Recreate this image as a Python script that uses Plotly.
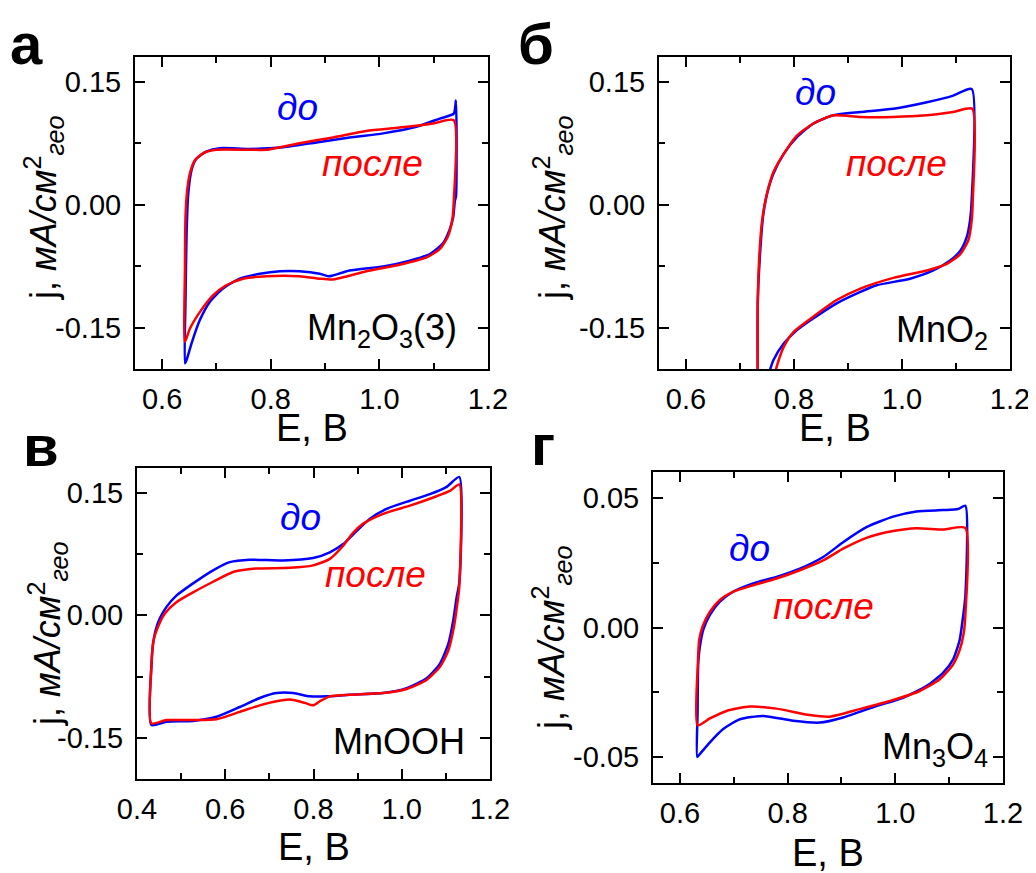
import plotly.graph_objects as go

# ---------------- data (E in V, j in mA/cm^2) ----------------
# Panel а: Mn2O3(3)
a_do_E = [0.642, 0.643, 0.645, 0.648, 0.654, 0.663, 0.682, 0.706, 0.761, 0.823, 0.884, 0.945, 1.007, 1.068,
          1.111, 1.137, 1.141, 1.141, 1.139, 1.136, 1.129, 1.117, 1.093, 1.056, 1.007, 0.945, 0.915, 0.906,
          0.890, 0.853, 0.817, 0.780, 0.743, 0.712, 0.688, 0.669, 0.654, 0.645, 0.642]
a_do_j = [-0.193, -0.116, -0.035, 0.013, 0.042, 0.056, 0.065, 0.069, 0.068, 0.070, 0.076, 0.082, 0.087, 0.095,
          0.105, 0.111, 0.127, 0.010, 0.005, -0.015, -0.031, -0.047, -0.060, -0.068, -0.075, -0.080, -0.086, -0.087,
          -0.084, -0.081, -0.081, -0.084, -0.090, -0.102, -0.118, -0.141, -0.169, -0.189, -0.193]
a_po_E = [0.642, 0.642, 0.643, 0.646, 0.651, 0.660, 0.676, 0.700, 0.761, 0.792, 0.853, 0.915, 0.976, 1.037,
          1.099, 1.137, 1.137, 1.134, 1.126, 1.111, 1.087, 1.037, 0.976, 0.915, 0.890, 0.853, 0.792, 0.749,
          0.718, 0.694, 0.669, 0.651, 0.642]
a_po_j = [-0.167, -0.076, -0.015, 0.017, 0.038, 0.054, 0.063, 0.067, 0.067, 0.067, 0.075, 0.082, 0.090, 0.094,
          0.099, 0.103, 0.005, -0.019, -0.039, -0.054, -0.064, -0.073, -0.081, -0.091, -0.090, -0.087, -0.087, -0.090,
          -0.098, -0.110, -0.131, -0.151, -0.167]

# Panel б: MnO2
b_do_E = [0.733, 0.733, 0.7375, 0.7425, 0.750, 0.762, 0.781, 0.805, 0.836, 0.873, 0.923, 0.984, 1.046, 1.095,
          1.129, 1.129, 1.126, 1.120, 1.108, 1.089, 1.058, 1.015, 0.953, 0.923, 0.879, 0.830, 0.805, 0.781,
          0.762, 0.753, 0.747]
b_do_j = [-0.238, -0.116, -0.056, -0.015, 0.013, 0.038, 0.062, 0.082, 0.099, 0.109, 0.113, 0.117, 0.125, 0.133,
          0.141, 0.005, -0.019, -0.039, -0.056, -0.068, -0.080, -0.090, -0.098, -0.106, -0.120, -0.141, -0.153, -0.169,
          -0.189, -0.206, -0.218]
b_po_E = [0.733, 0.733, 0.736, 0.741, 0.749, 0.762, 0.781, 0.805, 0.836, 0.873, 0.923, 0.984, 1.046, 1.095,
          1.130, 1.131, 1.129, 1.123, 1.108, 1.083, 1.046, 0.984, 0.923, 0.879, 0.830, 0.799, 0.781, 0.768, 0.762]
b_po_j = [-0.238, -0.116, -0.060, -0.019, 0.011, 0.040, 0.062, 0.084, 0.099, 0.109, 0.107, 0.107, 0.109, 0.113,
          0.117, 0.005, -0.019, -0.043, -0.060, -0.072, -0.080, -0.089, -0.102, -0.116, -0.139, -0.155, -0.173, -0.197,
          -0.214]

# Panel в: MnOOH
c_do_E = [0.4325, 0.433, 0.4363, 0.4423, 0.4514, 0.4665, 0.4892, 0.527, 0.5724, 0.6102, 0.6556, 0.7312, 0.7992,
          0.837, 0.8673, 0.8975, 0.9278, 0.9656, 1.0185, 1.0639, 1.1017, 1.1304, 1.1304, 1.1244, 1.1168, 1.1055,
          1.0866, 1.0563, 1.011, 0.958, 0.8824, 0.8295, 0.7917, 0.7539, 0.7161, 0.6783, 0.6329, 0.580, 0.527,
          0.4665, 0.4325]
c_do_j = [-0.134, -0.059, -0.035, -0.018, -0.004, 0.010, 0.024, 0.039, 0.055, 0.065, 0.068, 0.067, 0.070,
          0.077, 0.087, 0.103, 0.118, 0.130, 0.140, 0.148, 0.157, 0.169, 0.040, 0.022, -0.006, -0.035,
          -0.059, -0.077, -0.089, -0.095, -0.097, -0.099, -0.099, -0.095, -0.095, -0.101, -0.112, -0.124, -0.129,
          -0.130, -0.134]
c_po_E = [0.4325, 0.433, 0.4378, 0.4476, 0.4628, 0.4892, 0.527, 0.5724, 0.6178, 0.6631, 0.7463, 0.7992, 0.837,
          0.8673, 0.890, 0.9127, 0.958, 1.0185, 1.0714, 1.1092, 1.1304, 1.1304, 1.1259, 1.1183, 1.1055, 1.0866,
          1.0563, 1.011, 0.958, 0.8824, 0.837, 0.8144, 0.7992, 0.7803, 0.7463, 0.7161, 0.6783, 0.6329, 0.580,
          0.527, 0.4665, 0.4325]
c_po_j = [-0.132, -0.059, -0.030, -0.014, 0.002, 0.016, 0.028, 0.041, 0.053, 0.057, 0.058, 0.061, 0.069,
          0.085, 0.101, 0.112, 0.124, 0.134, 0.144, 0.152, 0.160, 0.035, 0.014, -0.014, -0.043, -0.063,
          -0.079, -0.090, -0.095, -0.097, -0.099, -0.105, -0.110, -0.107, -0.103, -0.105, -0.110, -0.118, -0.127,
          -0.128, -0.128, -0.132]

# Panel г: Mn3O4
d_do_E = [0.6322, 0.6328, 0.634, 0.6371, 0.6433, 0.6557, 0.6742, 0.699, 0.7361, 0.7794, 0.8227, 0.866, 0.9031,
          0.9464, 0.9959, 1.0392, 1.0887, 1.1165, 1.1301, 1.1301, 1.1258, 1.1196, 1.1072, 1.0886, 1.0577, 1.0144,
          0.9649, 0.9031, 0.8598, 0.8103, 0.7546, 0.7113, 0.6804, 0.6557, 0.6371, 0.6322]
d_do_j = [-0.050, -0.033, -0.0137, -0.0073, -0.0009, 0.0049, 0.010, 0.0138, 0.017, 0.0195, 0.0227, 0.0272, 0.0329,
          0.0387, 0.0428, 0.0448, 0.0453, 0.0457, 0.047, 0.012, 0.0042, -0.0047, -0.0124, -0.0175, -0.0226, -0.0271,
          -0.0303, -0.0347, -0.0367, -0.036, -0.0341, -0.0354, -0.0392, -0.0443, -0.0488, -0.050]
d_po_E = [0.6328, 0.6334, 0.6359, 0.6421, 0.6557, 0.6742, 0.699, 0.7361, 0.7794, 0.8227, 0.866, 0.9031, 0.9464,
          0.9959, 1.0392, 1.0887, 1.1301, 1.1301, 1.127, 1.1196, 1.1072, 1.0825, 1.0454, 0.9959, 0.934, 0.8783,
          0.8412, 0.7794, 0.7299, 0.6866, 0.6557, 0.6328]
d_po_j = [-0.0377, -0.0137, -0.0047, 0.0004, 0.0061, 0.0106, 0.0138, 0.0163, 0.0189, 0.0221, 0.0259, 0.0304, 0.0346,
          0.0372, 0.0383, 0.0378, 0.0384, 0.005, -0.0022, -0.0086, -0.0143, -0.020, -0.0245, -0.028, -0.0315, -0.0344,
          -0.0338, -0.0313, -0.0305, -0.0322, -0.0351, -0.0377]

# Tick labels
x_ticks_std = [0.6, 0.8, 1.0, 1.2]
x_ticktext_std = ["0.6", "0.8", "1.0", "1.2"]
x_ticks_c = [0.4, 0.6, 0.8, 1.0, 1.2]
x_ticktext_c = ["0.4", "0.6", "0.8", "1.0", "1.2"]
y_ticks_big = [-0.15, 0.0, 0.15]
y_ticktext_big = ["-0.15", "0.00", "0.15"]
y_ticks_small = [-0.05, 0.0, 0.05]
y_ticktext_small = ["-0.05", "0.00", "0.05"]

panel_letters = ["а", "б", "в", "г"]
compounds = ["Mn<sub>2</sub>O<sub>3</sub>(3)", "MnO<sub>2</sub>", "MnOOH", "Mn<sub>3</sub>O<sub>4</sub>"]
label_do = "до"
label_po = "после"

# ---------------- layout ----------------
# The page body adds an 8px margin around the figure, so figure pixels are offset.
OFF = 8
W, H = 1036 - OFF, 873 - OFF
FONT = "Liberation Sans, Arial, sans-serif"
BLUE = "#0000FF"
RED = "#FF0000"


def px(x):
    return (x - OFF) / W


def py(y):
    return 1 - (y - OFF) / H


panels = [
    dict(dx=(135, 488), dy=(57, 369), xr=[0.55, 1.2], yr=[-0.2, 0.18], xt=x_ticks_std, xtt=x_ticktext_std,
         xminor=[0.7, 0.9, 1.1], yt=y_ticks_big, ytt=y_ticktext_big, yminor=[-0.075, 0.075],
         E=(a_do_E, a_po_E), J=(a_do_j, a_po_j),
         do_pos=(0.850, 0.119), po_pos=(0.988, 0.050), comp_pos=(1.147, -0.153),
         letter=(26, 44), ytitle=(43, 208), xtitle=(312, 428)),
    dict(dx=(659, 1010), dy=(57, 369), xr=[0.55, 1.2], yr=[-0.2, 0.18], xt=x_ticks_std, xtt=x_ticktext_std,
         xminor=[0.7, 0.9, 1.1], yt=y_ticks_big, ytt=y_ticktext_big, yminor=[-0.075, 0.075],
         E=(b_do_E, b_po_E), J=(b_do_j, b_po_j),
         do_pos=(0.8405, 0.137), po_pos=(0.989, 0.050), comp_pos=(1.163, -0.155),
         letter=(536, 44), ytitle=(552, 208), xtitle=(835, 428)),
    dict(dx=(137, 490), dy=(468, 779), xr=[0.4, 1.2], yr=[-0.2, 0.18], xt=x_ticks_c, xtt=x_ticktext_c,
         xminor=[0.5, 0.7, 0.9, 1.1], yt=y_ticks_big, ytt=y_ticktext_big, yminor=[-0.075, 0.075],
         E=(c_do_E, c_po_E), J=(c_do_j, c_po_j),
         do_pos=(0.771, 0.119), po_pos=(0.941, 0.050), comp_pos=(1.147, -0.154),
         letter=(41, 445), ytitle=(47, 634), xtitle=(314, 847)),
    dict(dx=(653, 1003), dy=(472, 783), xr=[0.55, 1.2], yr=[-0.06, 0.06], xt=x_ticks_std, xtt=x_ticktext_std,
         xminor=[0.7, 0.9, 1.1], yt=y_ticks_small, ytt=y_ticktext_small, yminor=[-0.025, 0.025],
         E=(d_do_E, d_po_E), J=(d_do_j, d_po_j),
         do_pos=(0.7287, 0.0304), po_pos=(0.866, 0.008), comp_pos=(1.175, -0.0469),
         letter=(543, 444), ytitle=(551, 638), xtitle=(828, 853)),
]

fig = go.Figure()
annotations = []
layout_axes = {}

for i, p in enumerate(panels):
    n = "" if i == 0 else str(i + 1)
    xa, ya = "x" + n, "y" + n
    for k, (col, name) in enumerate([(BLUE, label_do), (RED, label_po)]):
        fig.add_trace(go.Scatter(x=p["E"][k], y=p["J"][k], mode="lines", name=name,
                                 line=dict(color=col, width=2.5, shape="spline", smoothing=0.6),
                                 xaxis=xa, yaxis=ya, showlegend=False))
    common = dict(showline=True, linecolor="black", linewidth=2, mirror="allticks",
                  ticks="inside", ticklen=10, tickwidth=2, tickcolor="black",
                  showgrid=False, zeroline=False, automargin=False,
                  tickfont=dict(family=FONT, size=29, color="black"))
    layout_axes["xaxis" + n] = dict(
        domain=[px(p["dx"][0]), px(p["dx"][1])], anchor=ya, range=p["xr"],
        tickmode="array", tickvals=p["xt"], ticktext=p["xtt"],
        minor=dict(tickmode="array", tickvals=p["xminor"], ticks="inside", ticklen=6,
                   tickwidth=2, tickcolor="black", showgrid=False),
        ticklabelstandoff=3, **common)
    layout_axes["yaxis" + n] = dict(
        domain=[py(p["dy"][1]), py(p["dy"][0])], anchor=xa, range=p["yr"],
        tickmode="array", tickvals=p["yt"], ticktext=p["ytt"],
        minor=dict(tickmode="array", tickvals=p["yminor"], ticks="inside", ticklen=6,
                   tickwidth=2, tickcolor="black", showgrid=False),
        ticklabelstandoff=6, **common)

    # in-plot labels
    annotations.append(dict(x=p["do_pos"][0], y=p["do_pos"][1], xref=xa, yref=ya, text="<i>" + label_do + "</i>",
                            xanchor="center", yanchor="middle",
                            showarrow=False, font=dict(family=FONT, size=37, color=BLUE)))
    annotations.append(dict(x=p["po_pos"][0], y=p["po_pos"][1], xref=xa, yref=ya, text="<i>" + label_po + "</i>",
                            xanchor="center", yanchor="middle",
                            showarrow=False, font=dict(family=FONT, size=37, color=RED)))
    annotations.append(dict(x=p["comp_pos"][0], y=p["comp_pos"][1], xref=xa, yref=ya, text=compounds[i],
                            xanchor="right", yanchor="middle",
                            showarrow=False, font=dict(family=FONT, size=36, color="black")))
    # panel letter
    annotations.append(dict(x=px(p["letter"][0]), y=py(p["letter"][1]), xref="paper", yref="paper",
                            text="<b>" + panel_letters[i] + "</b>", showarrow=False,
                            xanchor="center", yanchor="middle",
                            font=dict(family=FONT, size=58, color="black")))
    # axis titles
    annotations.append(dict(x=px(p["ytitle"][0]), y=py(p["ytitle"][1]), xref="paper", yref="paper",
                            text="j, <i>мА/см</i><sup>2</sup><sub><i>гео</i></sub>", textangle=-90,
                            xanchor="center", yanchor="middle",
                            showarrow=False, font=dict(family=FONT, size=36, color="black")))
    annotations.append(dict(x=px(p["xtitle"][0]), y=py(p["xtitle"][1]), xref="paper", yref="paper",
                            text="E, B", showarrow=False, xanchor="center", yanchor="middle",
                            font=dict(family=FONT, size=38, color="black")))

fig.update_layout(width=W, height=H, margin=dict(l=0, r=0, t=0, b=0, autoexpand=False),
                  paper_bgcolor="white", plot_bgcolor="white",
                  annotations=annotations, **layout_axes)

fig.write_html("out.html")
